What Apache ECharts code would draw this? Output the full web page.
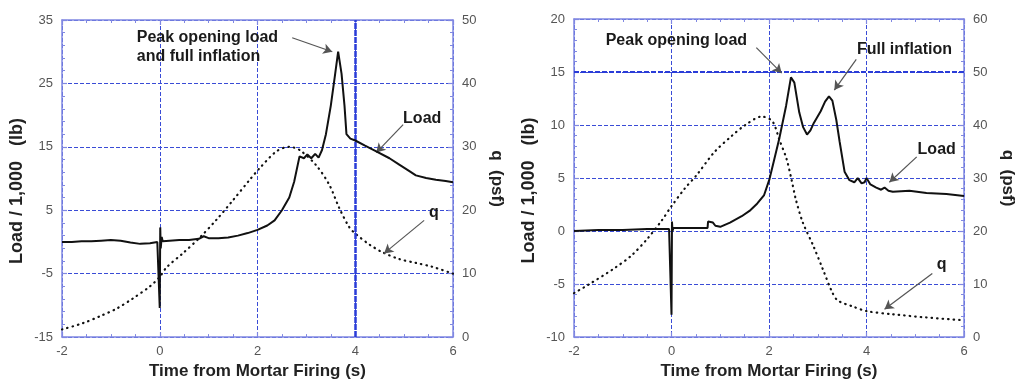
<!DOCTYPE html>
<html>
<head>
<meta charset="utf-8">
<script src="https://cdn.jsdelivr.net/npm/echarts@6/dist/echarts.min.js"></script>
<style>
html,body{margin:0;padding:0;background:#fff;}
#chart{width:1017px;height:385px;}
</style>
</head>
<body>
<div id="chart"></div>
<script>
// ---------- data ----------
// Left panel: load (kLb) vs time (s)
const leftLoadT = [-2.0,-1.8,-1.6,-1.4,-1.2,-1.0,-0.8,-0.6,-0.4,-0.2,-0.05,0.0,0.01,0.02,0.04,0.06,0.2,0.4,0.6,0.8,0.9,1.0,1.2,1.4,1.6,1.8,2.0,2.2,2.35,2.5,2.65,2.75,2.86,2.95,3.02,3.1,3.18,3.25,3.32,3.4,3.5,3.58,3.65,3.72,3.78,3.82,3.9,4.0,4.2,4.43,4.7,4.9,5.1,5.24,5.45,5.65,5.85,6.0];
const leftLoadV = [0.0,0.0,0.1,0.1,0.2,0.3,0.2,-0.1,-0.3,-0.2,0.0,-10.4,2.3,-1.0,0.8,0.1,0.2,0.3,0.3,0.5,0.9,0.6,0.6,0.7,1.0,1.4,1.9,2.6,3.4,5.0,7.0,9.5,13.5,13.2,13.8,13.2,13.9,13.3,14.5,17.0,21.5,26.0,30.0,26.5,21.5,17.0,16.3,16.0,15.2,14.3,13.2,12.2,11.2,10.5,10.1,9.8,9.6,9.4];
// Left panel: dynamic pressure q (psf)
const leftQT = [-2.0,-1.57,-1.22,-0.88,-0.55,-0.2,0.0,0.14,0.47,0.82,1.16,1.49,1.84,2.04,2.39,2.65,2.86,3.2,3.47,3.67,3.88,4.02,4.29,4.55,4.9,5.24,5.57,6.0];
const leftQV = [1.2,2.2,3.3,4.5,6.1,8.0,9.5,11.0,13.2,15.7,18.5,21.5,24.8,26.6,29.3,30.0,29.5,27.1,24.0,20.4,17.3,16.2,14.6,13.4,12.3,11.7,11.1,10.0];
// Right panel: load (kLb)
const rightLoadT = [-2.0,-1.5,-1.0,-0.5,-0.05,0.0,0.01,0.02,0.04,0.3,0.6,0.74,0.75,0.85,0.9,1.0,1.2,1.44,1.6,1.76,1.9,2.01,2.1,2.21,2.35,2.45,2.52,2.62,2.7,2.78,2.85,2.92,3.06,3.15,3.23,3.3,3.38,3.45,3.55,3.65,3.75,3.82,3.9,3.96,4.0,4.08,4.2,4.3,4.37,4.45,4.54,4.88,5.23,5.64,6.0];
const rightLoadV = [0.0,0.1,0.1,0.2,0.2,-7.9,0.9,0.0,0.3,0.3,0.3,0.3,0.9,0.8,0.5,0.4,0.8,1.4,1.9,2.6,3.4,4.9,6.6,8.7,11.8,14.5,14.0,11.2,9.8,9.1,9.5,10.2,11.3,12.2,12.7,12.3,10.5,8.4,5.6,4.8,4.6,5.0,4.5,4.6,5.0,4.4,4.1,3.9,4.1,3.8,3.7,3.8,3.6,3.5,3.3];
// Right panel: q (psf)
const rightQT = [-2.0,-1.72,-1.17,-0.82,-0.49,-0.2,0.0,0.27,0.51,0.88,1.23,1.5,1.85,2.07,2.21,2.36,2.46,2.55,2.69,2.91,3.1,3.29,3.41,3.71,4.0,4.54,5.23,5.95];
const rightQV = [8.3,9.8,13.0,15.4,18.6,22.0,24.7,28.0,30.5,34.9,37.9,39.9,41.6,40.7,37.3,33.6,29.8,26.0,21.7,17.2,12.9,8.6,6.9,5.8,4.9,4.3,3.7,3.2];

// axis ranges / tick steps
const timeRange = [-2, 6, 2];
const leftLoadRange = [-15, 35, 10];
const leftQRange = [0, 50, 10];
const rightLoadRange = [-10, 20, 5];
const rightQRange = [0, 60, 10];

// text
const xTitle = 'Time from Mortar Firing (s)';
const loadTitle = 'Load / 1,000   (lb)     ';
const qTitle = 'q  (psf)';

// ---------- helpers ----------
const zip = (t, v) => t.map((x, i) => [x, v[i]]);
const FONT = '"Liberation Sans", Arial, Helvetica, sans-serif';
const AXIS_BLUE = '#8088e2';
const GRID_BLUE = '#3a4cd6';
const BOLD_BLUE = '#2a3cd8';

function xAxisPair(grid) {
  const base = {
    type: 'value', gridIndex: grid,
    min: timeRange[0], max: timeRange[1], interval: timeRange[2],
    axisLine: {show: true, onZero: false, lineStyle: {color: AXIS_BLUE, width: 1.5}},
    axisTick: {show: true, inside: true, length: 5, lineStyle: {color: AXIS_BLUE, width: 1.2}},
    minorTick: {show: true, splitNumber: 4, length: 3, lineStyle: {color: AXIS_BLUE, width: 1}},
  };
  return [
    Object.assign({}, base, {
      position: 'bottom',
      axisLabel: {color: '#555', fontSize: 13, fontFamily: FONT, margin: 8},
      splitLine: {show: true, lineStyle: {color: [GRID_BLUE], width: 1, type: [4, 2]}},
      name: xTitle, nameLocation: 'middle', nameGap: 21,
      nameTextStyle: {fontSize: 17, fontWeight: 'bold', color: '#222', fontFamily: FONT}
    }),
    Object.assign({}, base, {
      position: 'top',
      axisLabel: {show: false},
      splitLine: {show: false}
    })
  ];
}

function yAxisPair(grid, lRange, qRange) {
  const common = {
    type: 'value', gridIndex: grid,
    axisLine: {show: true, onZero: false, lineStyle: {color: AXIS_BLUE, width: 1.5}},
    axisTick: {show: true, inside: true, length: 5, lineStyle: {color: AXIS_BLUE, width: 1.2}},
    minorTick: {show: true, splitNumber: 5, length: 3, lineStyle: {color: AXIS_BLUE, width: 1}},
    axisLabel: {color: '#555', fontSize: 13, fontFamily: FONT, margin: 9},
    nameLocation: 'middle',
    nameTextStyle: {fontSize: 17, fontWeight: 'bold', color: '#222', fontFamily: FONT}
  };
  return [
    Object.assign({}, common, {
      position: 'left', min: lRange[0], max: lRange[1], interval: lRange[2],
      splitLine: {show: true, lineStyle: {color: [GRID_BLUE], width: 1, type: [4, 2]}},
      name: loadTitle, nameRotate: 90, nameGap: 36,
      nameTextStyle: {fontSize: 18, fontWeight: 'bold', color: '#222', fontFamily: FONT}
    }),
    Object.assign({}, common, {
      position: 'right', min: qRange[0], max: qRange[1], interval: qRange[2],
      splitLine: {show: false},
      name: qTitle, nameRotate: -90, nameGap: 35
    })
  ];
}

const txt = (s, extra) => Object.assign({
  show: true, position: 'inside', formatter: s,
  fontSize: 16, fontWeight: 'bold', color: '#1a1a1a', fontFamily: FONT, lineHeight: 19
}, extra || {});

const annot = (coord, label) => ({
  coord: coord, symbol: 'circle', symbolSize: 1,
  itemStyle: {color: 'rgba(0,0,0,0)'}, label: label
});

const arrow = (from, to) => [
  {coord: from, symbol: 'none'},
  {coord: to, symbol: 'arrow'}
];

const markLineBase = (data) => ({
  silent: true, animation: false,
  symbol: ['none', 'arrow'], symbolSize: [8, 9],
  label: {show: false},
  lineStyle: {color: '#555', width: 1.2, type: 'solid'},
  itemStyle: {color: '#111'},
  data: data
});

const guideLine = (item) => ({
  silent: true, animation: false,
  symbol: ['none', 'none'],
  label: {show: false},
  data: [item]
});

const markPointBase = (data) => ({
  silent: true, animation: false, data: data
});

const loadStyle = {color: '#111', width: 2};
const qStyle = {color: '#111', width: 2.2, type: [0.5, 5], cap: 'round'};

const xs0 = xAxisPair(0), xs1 = xAxisPair(1);
const ys0 = yAxisPair(0, leftLoadRange, leftQRange);
const ys1 = yAxisPair(1, rightLoadRange, rightQRange);

const option = {
  animation: false,
  backgroundColor: '#fff',
  grid: [
    {left: 62, top: 20, width: 391, height: 321},
    {left: 574, top: 19, width: 390, height: 320}
  ],
  xAxis: [xs0[0], xs0[1], xs1[0], xs1[1]],
  yAxis: [ys0[0], ys0[1], ys1[0], ys1[1]],
  series: [
    {
      type: 'line', name: 'guide', xAxisIndex: 0, yAxisIndex: 0, data: [],
      markLine: guideLine({xAxis: 4, lineStyle: {color: BOLD_BLUE, width: 2.5, type: [6, 1]}})
    },
    {
      type: 'line', name: 'guide', xAxisIndex: 2, yAxisIndex: 2, data: [],
      markLine: guideLine({yAxis: 15, lineStyle: {color: BOLD_BLUE, width: 2.2, type: [5, 2]}})
    },
    {
      type: 'line', name: 'Load', xAxisIndex: 0, yAxisIndex: 0,
      data: zip(leftLoadT, leftLoadV), showSymbol: false, symbol: 'none',
      lineStyle: loadStyle, z: 5,
      markLine: markLineBase([
        arrow([2.71, 32.2], [3.53, 30.0]),
        arrow([4.98, 18.5], [4.43, 14.1])
      ]),
      markPoint: markPointBase([
        annot([-0.47, 30.8], txt('Peak opening load\nand full inflation', {align: 'left'})),
        annot([5.37, 19.4], txt('Load'))
      ])
    },
    {
      type: 'line', name: 'q', xAxisIndex: 0, yAxisIndex: 1,
      data: zip(leftQT, leftQV), showSymbol: false, symbol: 'none', smooth: 0.3,
      lineStyle: qStyle, z: 4,
      markLine: markLineBase([
        arrow([5.41, 18.4], [4.59, 13.2])
      ]),
      markPoint: markPointBase([
        annot([5.61, 19.6], txt('q'))
      ])
    },
    {
      type: 'line', name: 'Load', xAxisIndex: 2, yAxisIndex: 2,
      data: zip(rightLoadT, rightLoadV), showSymbol: false, symbol: 'none',
      lineStyle: loadStyle, z: 5,
      markLine: markLineBase([
        arrow([1.74, 17.3], [2.26, 14.9]),
        arrow([3.79, 16.2], [3.34, 13.3]),
        arrow([5.03, 7.0], [4.47, 4.6])
      ]),
      markPoint: markPointBase([
        annot([0.10, 18.0], txt('Peak opening load')),
        annot([4.78, 17.1], txt('Full inflation')),
        annot([5.44, 7.7], txt('Load'))
      ])
    },
    {
      type: 'line', name: 'q', xAxisIndex: 2, yAxisIndex: 3,
      data: zip(rightQT, rightQV), showSymbol: false, symbol: 'none', smooth: 0.3,
      lineStyle: qStyle, z: 4,
      markLine: markLineBase([
        arrow([5.35, 12.0], [4.37, 5.25])
      ]),
      markPoint: markPointBase([
        annot([5.54, 13.7], txt('q'))
      ])
    }
  ]
};

const chart = echarts.init(document.getElementById('chart'), null, {renderer: 'canvas'});
chart.setOption(option);
</script>
</body>
</html>
